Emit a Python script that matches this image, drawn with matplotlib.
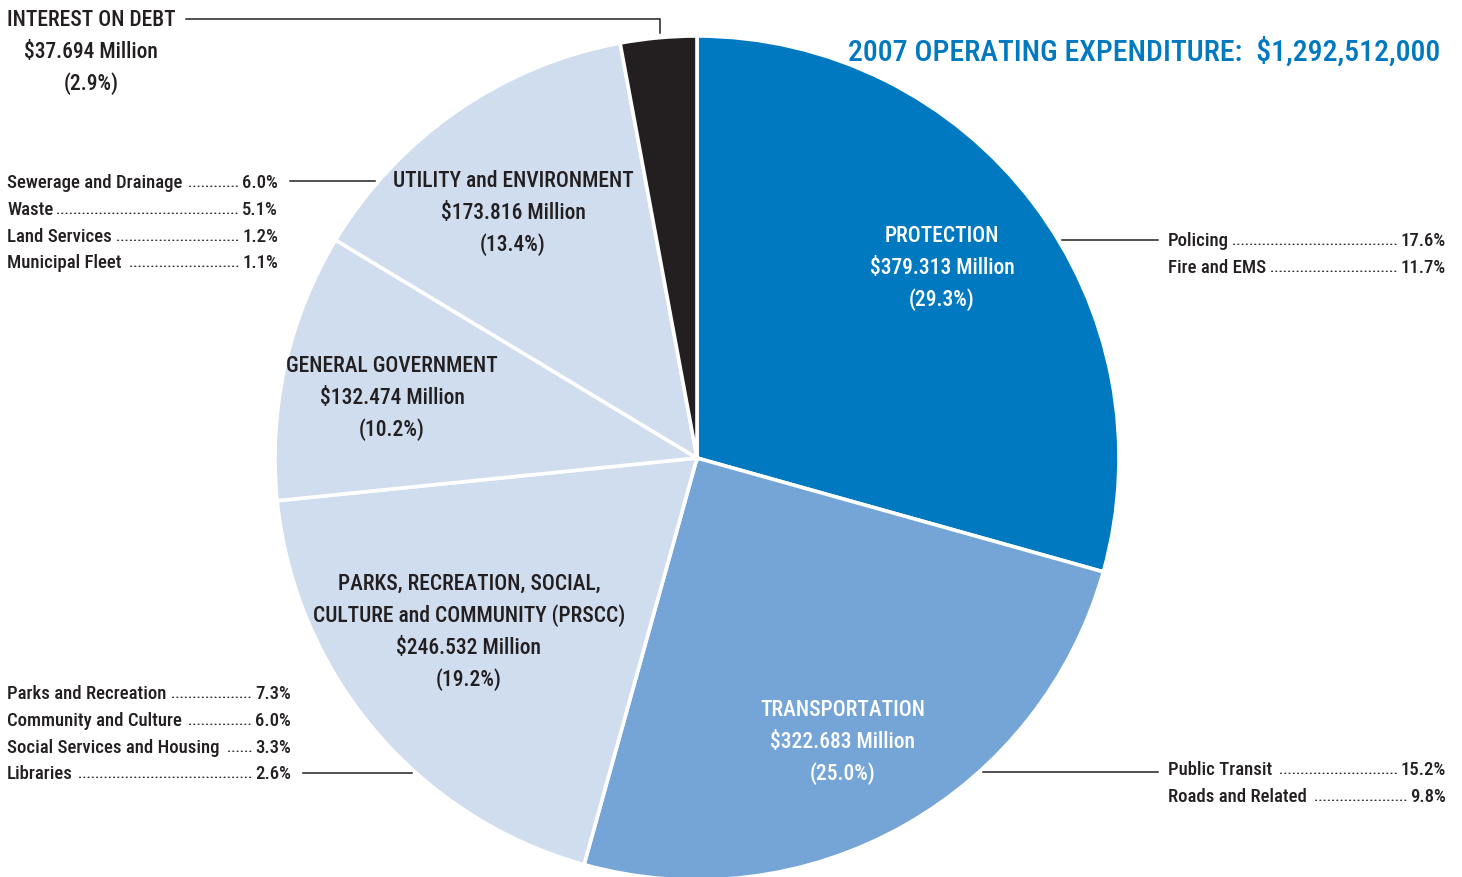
import matplotlib
matplotlib.use("Agg")
import matplotlib.pyplot as plt
from matplotlib import font_manager

# ---- data -------------------------------------------------------------
categories = [
    "PROTECTION",
    "TRANSPORTATION",
    "PARKS, RECREATION, SOCIAL,\nCULTURE and COMMUNITY (PRSCC)",
    "GENERAL GOVERNMENT",
    "UTILITY and ENVIRONMENT",
    "INTEREST ON DEBT",
]
amounts_millions = [379.313, 322.683, 246.532, 132.474, 173.816, 37.694]
shares_pct = [29.3, 25.0, 19.2, 10.2, 13.4, 2.9]
slice_colors = ["#0079C1", "#74A5D6", "#CFDDEF", "#CFDDEF", "#CFDDEF", "#231F20"]
label_colors = ["white", "white", "#231F20", "#231F20", "#231F20", "#231F20"]
total_expenditure = 1292512000

protection_items = ["Policing", "Fire and EMS"]
protection_pct = [17.6, 11.7]
transportation_items = ["Public Transit", "Roads and Related"]
transportation_pct = [15.2, 9.8]
prscc_items = ["Parks and Recreation", "Community and Culture",
               "Social Services and Housing", "Libraries"]
prscc_pct = [7.3, 6.0, 3.3, 2.6]
utility_items = ["Sewerage and Drainage", "Waste", "Land Services", "Municipal Fleet"]
utility_pct = [6.0, 5.1, 1.2, 1.1]

# ---- font -------------------------------------------------------------
available = {f.name for f in font_manager.fontManager.ttflist}
FONT = "DejaVu Sans"
STRETCH = "normal"
for cand in ["Roboto Condensed", "Liberation Sans Narrow", "Open Sans Condensed",
             "Noto Sans Condensed", "DejaVu Sans Condensed"]:
    if cand in available:
        FONT = cand
        break
else:
    if any(f.name == "DejaVu Sans" and f.stretch == "condensed"
           for f in font_manager.fontManager.ttflist):
        STRETCH = "condensed"
plt.rcParams["font.family"] = [FONT, "DejaVu Sans"]
plt.rcParams["font.stretch"] = STRETCH
WEIGHT = "medium"

DARK = "#231F20"
BLUE = "#0079C1"

W, H = 1462, 877
fig = plt.figure(figsize=(W / 100, H / 100), dpi=100)
ax = fig.add_axes([0, 0, 1, 1])


def Y(py):
    return H - py


# ---- pie --------------------------------------------------------------
cx, cy, R = 697, 458, 422
ax.pie(amounts_millions, colors=slice_colors, startangle=90, counterclock=False,
       center=(cx, Y(cy)), radius=R,
       wedgeprops=dict(edgecolor="white", linewidth=2.6, antialiased=True))
ax.set_xlim(0, W)
ax.set_ylim(0, H)
ax.set_aspect("auto")
ax.axis("off")

renderer = fig.canvas.get_renderer()

# ---- slice labels -----------------------------------------------------
MAIN_FS = 15.5
LINE = 32
label_pos = [(942, 236), (843, 710), (469, 584), (392, 366), (513, 181)]
for i, (x, y0) in enumerate(label_pos):
    lines = categories[i].split("\n") + [f"${amounts_millions[i]:.3f} Million",
                                         f"({shares_pct[i]:.1f}%)"]
    for k, s in enumerate(lines):
        ax.text(x, Y(y0 + k * LINE), s, ha="center", va="center",
                fontsize=MAIN_FS, color=label_colors[i], fontweight=WEIGHT)

# interest on debt: block sits at the left margin, lines centred on the first
i = 5
head = ax.text(7, Y(20), categories[i], ha="left", va="center",
               fontsize=MAIN_FS, color=DARK, fontweight=WEIGHT)
bb = head.get_window_extent(renderer)
mid = (bb.x0 + bb.x1) / 2
ax.text(mid, Y(20 + LINE), f"${amounts_millions[i]:.3f} Million", ha="center",
        va="center", fontsize=MAIN_FS, color=DARK, fontweight=WEIGHT)
ax.text(mid, Y(20 + 2 * LINE), f"({shares_pct[i]:.1f}%)", ha="center",
        va="center", fontsize=MAIN_FS, color=DARK, fontweight=WEIGHT)
ax.plot([bb.x1 + 10, 660, 660], [Y(19), Y(19), Y(33)], color=DARK, lw=1.1,
        solid_joinstyle="miter")

# ---- title ------------------------------------------------------------
ax.text(1440, Y(52), f"2007 OPERATING EXPENDITURE:  ${total_expenditure:,}",
        ha="right", va="center", fontsize=21.5, color=BLUE, fontweight=WEIGHT)

# ---- breakdown lists with dot leaders ---------------------------------
LIST_FS = 13.5
DOT_FS = 11
dot_probe = ax.text(0, 0, "." * 40, fontsize=DOT_FS, fontweight=WEIGHT)
DOT_W = dot_probe.get_window_extent(renderer).width / 40
dot_probe.remove()


def breakdown(items, pcts, x_left, x_right, y_top, step=26.8):
    for k, (name, p) in enumerate(zip(items, pcts)):
        y = Y(y_top + k * step)
        t1 = ax.text(x_left, y, name, ha="left", va="center",
                     fontsize=LIST_FS, color=DARK, fontweight=WEIGHT)
        t2 = ax.text(x_right, y, f"{p:.1f}%", ha="right", va="center",
                     fontsize=LIST_FS, color=DARK, fontweight=WEIGHT)
        a = t1.get_window_extent(renderer).x1 + 3
        b = t2.get_window_extent(renderer).x0 - 3
        n = max(int((b - a) / DOT_W), 0)
        ax.text(b, y - 4, "." * n, ha="right", va="baseline",
                fontsize=DOT_FS, color=DARK, fontweight=WEIGHT)


breakdown(utility_items, utility_pct, 7, 278, 183)
breakdown(protection_items, protection_pct, 1168, 1446, 241)
breakdown(prscc_items, prscc_pct, 7, 291, 694)
breakdown(transportation_items, transportation_pct, 1168, 1446, 770)

# leader lines from slices to their breakdown lists
for xs, yy in [((290, 375), 181), ((1062, 1158), 240), ((303, 412), 773),
               ((983, 1158), 772)]:
    ax.plot(xs, [Y(yy), Y(yy)], color=DARK, lw=1.1)

fig.savefig("out.png", dpi=100)
